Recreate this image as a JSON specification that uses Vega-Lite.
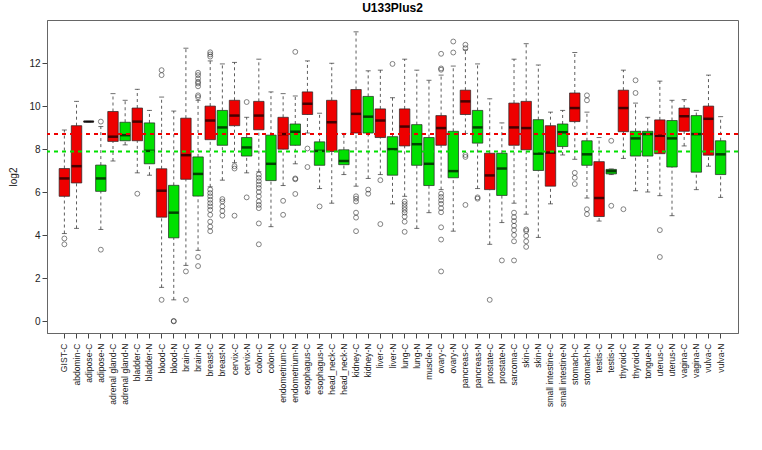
{
  "$schema": "https://vega.github.io/schema/vega-lite/v6.json",
  "width": 691,
  "height": 313,
  "autosize": {"type": "none"},
  "padding": {"left": 47, "top": 20, "right": 24, "bottom": 117},
  "background": "white",
  "title": {"text": "U133Plus2", "fontSize": 12, "fontWeight": "bold", "font": "Liberation Sans", "color": "#000", "offset": 5},
  "config": {"view": {"stroke": "#666", "strokeWidth": 1}, "axis": {"labelFont": "Liberation Sans", "titleFont": "Liberation Sans"}},
  "datasets": {
    "boxes": [
      {"cat": "GIST-C", "type": "C", "lo": 4.08, "q1": 5.81, "med": 6.64, "q3": 7.10, "hi": 8.89},
      {"cat": "abdomin-C", "type": "C", "lo": 4.32, "q1": 6.43, "med": 7.21, "q3": 9.09, "hi": 10.22},
      {"cat": "adipose-C", "type": "C", "lo": 9.27, "q1": 9.27, "med": 9.28, "q3": 9.29, "hi": 9.29},
      {"cat": "adipose-N", "type": "N", "lo": 4.27, "q1": 6.04, "med": 6.64, "q3": 7.26, "hi": 9.05},
      {"cat": "adrenal gland-C", "type": "C", "lo": 7.45, "q1": 8.36, "med": 8.58, "q3": 9.75, "hi": 10.58},
      {"cat": "adrenal gland-N", "type": "N", "lo": 8.20, "q1": 8.39, "med": 8.65, "q3": 9.25, "hi": 10.27},
      {"cat": "bladder-C", "type": "C", "lo": 6.90, "q1": 8.39, "med": 9.28, "q3": 9.91, "hi": 10.78},
      {"cat": "bladder-N", "type": "N", "lo": 6.79, "q1": 7.32, "med": 7.92, "q3": 9.22, "hi": 9.80},
      {"cat": "blood-C", "type": "C", "lo": 1.58, "q1": 4.84, "med": 6.07, "q3": 7.09, "hi": 10.42},
      {"cat": "blood-N", "type": "N", "lo": 1.0, "q1": 3.88, "med": 5.05, "q3": 6.32, "hi": 9.77},
      {"cat": "brain-C", "type": "C", "lo": 2.60, "q1": 6.60, "med": 7.72, "q3": 9.44, "hi": 12.69},
      {"cat": "brain-N", "type": "N", "lo": 3.30, "q1": 5.82, "med": 6.85, "q3": 7.64, "hi": 10.27},
      {"cat": "breast-C", "type": "C", "lo": 6.25, "q1": 8.44, "med": 9.33, "q3": 10.0, "hi": 12.1},
      {"cat": "breast-N", "type": "N", "lo": 6.56, "q1": 8.18, "med": 9.01, "q3": 9.80, "hi": 11.96},
      {"cat": "cervix-C", "type": "C", "lo": 7.37, "q1": 9.09, "med": 9.56, "q3": 10.27, "hi": 12.03},
      {"cat": "cervix-N", "type": "N", "lo": 6.90, "q1": 7.68, "med": 8.08, "q3": 8.54, "hi": 9.48},
      {"cat": "colon-C", "type": "C", "lo": 6.95, "q1": 8.90, "med": 9.56, "q3": 10.22, "hi": 12.18},
      {"cat": "colon-N", "type": "N", "lo": 4.40, "q1": 6.54, "med": 7.32, "q3": 8.65, "hi": 10.66},
      {"cat": "endometrium-C", "type": "C", "lo": 6.31, "q1": 8.00, "med": 8.70, "q3": 9.48, "hi": 10.58},
      {"cat": "endometrium-N", "type": "N", "lo": 7.32, "q1": 8.18, "med": 8.81, "q3": 9.17, "hi": 10.47},
      {"cat": "esophagus-C", "type": "C", "lo": 8.75, "q1": 9.61, "med": 10.11, "q3": 10.66, "hi": 12.10},
      {"cat": "esophagus-N", "type": "N", "lo": 6.17, "q1": 7.25, "med": 7.92, "q3": 8.34, "hi": 9.67},
      {"cat": "head_neck-C", "type": "C", "lo": 5.49, "q1": 7.89, "med": 9.25, "q3": 10.27, "hi": 11.99},
      {"cat": "head_neck-N", "type": "N", "lo": 6.82, "q1": 7.28, "med": 7.45, "q3": 7.97, "hi": 8.73},
      {"cat": "kidney-C", "type": "C", "lo": 6.28, "q1": 8.75, "med": 9.64, "q3": 10.77, "hi": 13.45},
      {"cat": "kidney-N", "type": "N", "lo": 6.64, "q1": 8.75, "med": 9.51, "q3": 10.45, "hi": 11.64},
      {"cat": "liver-C", "type": "C", "lo": 6.82, "q1": 8.54, "med": 9.33, "q3": 9.87, "hi": 11.67},
      {"cat": "liver-N", "type": "N", "lo": 5.46, "q1": 6.79, "med": 8.00, "q3": 8.58, "hi": 10.39},
      {"cat": "lung-C", "type": "C", "lo": 5.81, "q1": 8.15, "med": 9.05, "q3": 9.87, "hi": 12.18},
      {"cat": "lung-N", "type": "N", "lo": 4.32, "q1": 7.25, "med": 8.23, "q3": 9.14, "hi": 11.67},
      {"cat": "muscle-N", "type": "N", "lo": 5.05, "q1": 6.31, "med": 7.32, "q3": 8.54, "hi": 11.2},
      {"cat": "ovary-C", "type": "C", "lo": 6.12, "q1": 8.18, "med": 8.98, "q3": 9.56, "hi": 11.44},
      {"cat": "ovary-N", "type": "N", "lo": 4.19, "q1": 6.67, "med": 6.98, "q3": 8.83, "hi": 11.86},
      {"cat": "pancreas-C", "type": "C", "lo": 8.73, "q1": 9.61, "med": 10.22, "q3": 10.74, "hi": 12.61},
      {"cat": "pancreas-N", "type": "N", "lo": 6.17, "q1": 8.28, "med": 9.01, "q3": 9.80, "hi": 11.96},
      {"cat": "prostate-C", "type": "C", "lo": 3.58, "q1": 6.12, "med": 6.78, "q3": 7.81, "hi": 10.34},
      {"cat": "prostate-N", "type": "N", "lo": 4.59, "q1": 5.85, "med": 7.10, "q3": 7.81, "hi": 9.22},
      {"cat": "sarcoma-C", "type": "C", "lo": 5.49, "q1": 8.18, "med": 9.01, "q3": 10.14, "hi": 12.18},
      {"cat": "skin-C", "type": "C", "lo": 4.98, "q1": 7.97, "med": 8.98, "q3": 10.22, "hi": 12.9},
      {"cat": "skin-N", "type": "N", "lo": 3.90, "q1": 7.01, "med": 7.79, "q3": 9.37, "hi": 11.91},
      {"cat": "small intestine-C", "type": "C", "lo": 5.46, "q1": 6.28, "med": 7.84, "q3": 9.09, "hi": 9.72},
      {"cat": "small intestine-N", "type": "N", "lo": 7.73, "q1": 8.12, "med": 8.78, "q3": 9.17, "hi": 9.80},
      {"cat": "stomach-C", "type": "C", "lo": 7.53, "q1": 9.28, "med": 9.91, "q3": 10.61, "hi": 12.49},
      {"cat": "stomach-N", "type": "N", "lo": 5.73, "q1": 7.25, "med": 7.76, "q3": 8.39, "hi": 9.72},
      {"cat": "testis-C", "type": "C", "lo": 4.66, "q1": 4.87, "med": 5.73, "q3": 7.42, "hi": 8.54},
      {"cat": "testis-N", "type": "N", "lo": 6.82, "q1": 6.85, "med": 6.98, "q3": 7.06, "hi": 7.08},
      {"cat": "thyroid-C", "type": "C", "lo": 7.57, "q1": 8.81, "med": 9.91, "q3": 10.74, "hi": 11.67},
      {"cat": "thyroid-N", "type": "N", "lo": 6.07, "q1": 7.68, "med": 8.50, "q3": 8.83, "hi": 10.14},
      {"cat": "tongue-N", "type": "N", "lo": 6.01, "q1": 7.68, "med": 8.70, "q3": 8.83, "hi": 9.48},
      {"cat": "uterus-C", "type": "C", "lo": 5.84, "q1": 7.79, "med": 8.62, "q3": 9.36, "hi": 11.16},
      {"cat": "uterus-N", "type": "N", "lo": 4.91, "q1": 7.17, "med": 8.50, "q3": 9.33, "hi": 10.27},
      {"cat": "vagina-C", "type": "C", "lo": 8.15, "q1": 8.83, "med": 9.53, "q3": 9.91, "hi": 10.30},
      {"cat": "vagina-N", "type": "N", "lo": 6.12, "q1": 6.93, "med": 8.70, "q3": 9.56, "hi": 9.80},
      {"cat": "vulva-C", "type": "C", "lo": 7.21, "q1": 7.72, "med": 9.41, "q3": 10.0, "hi": 11.44},
      {"cat": "vulva-N", "type": "N", "lo": 5.76, "q1": 6.82, "med": 7.76, "q3": 8.39, "hi": 9.51}
    ],
    "outliers": [
      {"cat": "GIST-C", "v": 3.85}, {"cat": "GIST-C", "v": 3.58},
      {"cat": "adipose-N", "v": 9.28}, {"cat": "adipose-N", "v": 3.33},
      {"cat": "bladder-C", "v": 5.93},
      {"cat": "blood-C", "v": 11.67}, {"cat": "blood-C", "v": 11.44}, {"cat": "blood-C", "v": 1.0},
      {"cat": "blood-N", "v": 0.0}, {"cat": "blood-N", "v": 0.02},
      {"cat": "brain-C", "v": 2.32}, {"cat": "brain-C", "v": 1.0},
      {"cat": "brain-N", "v": 11.55}, {"cat": "brain-N", "v": 11.44}, {"cat": "brain-N", "v": 11.28}, {"cat": "brain-N", "v": 11.13}, {"cat": "brain-N", "v": 11.05}, {"cat": "brain-N", "v": 10.92}, {"cat": "brain-N", "v": 10.50}, {"cat": "brain-N", "v": 10.42}, {"cat": "brain-N", "v": 2.99}, {"cat": "brain-N", "v": 2.57},
      {"cat": "breast-C", "v": 12.3}, {"cat": "breast-C", "v": 12.4}, {"cat": "breast-C", "v": 12.5},
      {"cat": "breast-C", "v": 6.12}, {"cat": "breast-C", "v": 5.96}, {"cat": "breast-C", "v": 5.81}, {"cat": "breast-C", "v": 5.65}, {"cat": "breast-C", "v": 5.49}, {"cat": "breast-C", "v": 5.34}, {"cat": "breast-C", "v": 5.18}, {"cat": "breast-C", "v": 4.95}, {"cat": "breast-C", "v": 4.63}, {"cat": "breast-C", "v": 4.40}, {"cat": "breast-C", "v": 4.19},
      {"cat": "breast-N", "v": 5.68}, {"cat": "breast-N", "v": 5.57}, {"cat": "breast-N", "v": 5.34}, {"cat": "breast-N", "v": 5.13}, {"cat": "breast-N", "v": 4.91},
      {"cat": "cervix-C", "v": 7.21}, {"cat": "cervix-C", "v": 7.10}, {"cat": "cervix-C", "v": 4.91},
      {"cat": "cervix-N", "v": 10.19}, {"cat": "cervix-N", "v": 5.76},
      {"cat": "colon-C", "v": 6.82}, {"cat": "colon-C", "v": 6.67}, {"cat": "colon-C", "v": 6.51}, {"cat": "colon-C", "v": 6.35}, {"cat": "colon-C", "v": 6.20}, {"cat": "colon-C", "v": 6.01}, {"cat": "colon-C", "v": 5.81}, {"cat": "colon-C", "v": 5.57}, {"cat": "colon-C", "v": 5.41}, {"cat": "colon-C", "v": 5.26}, {"cat": "colon-C", "v": 4.55}, {"cat": "colon-C", "v": 3.58},
      {"cat": "endometrium-C", "v": 5.60}, {"cat": "endometrium-C", "v": 4.95},
      {"cat": "endometrium-N", "v": 12.52}, {"cat": "endometrium-N", "v": 6.64}, {"cat": "endometrium-N", "v": 6.60}, {"cat": "endometrium-N", "v": 5.92},
      {"cat": "esophagus-C", "v": 8.03}, {"cat": "esophagus-C", "v": 7.17},
      {"cat": "esophagus-N", "v": 5.34},
      {"cat": "kidney-C", "v": 5.81}, {"cat": "kidney-C", "v": 5.70}, {"cat": "kidney-C", "v": 5.57}, {"cat": "kidney-C", "v": 5.05}, {"cat": "kidney-C", "v": 4.82}, {"cat": "kidney-C", "v": 4.19},
      {"cat": "kidney-N", "v": 6.12}, {"cat": "kidney-N", "v": 5.93},
      {"cat": "liver-C", "v": 6.56}, {"cat": "liver-C", "v": 4.52},
      {"cat": "liver-N", "v": 11.96},
      {"cat": "lung-C", "v": 5.57}, {"cat": "lung-C", "v": 5.45}, {"cat": "lung-C", "v": 5.31}, {"cat": "lung-C", "v": 5.18}, {"cat": "lung-C", "v": 5.05}, {"cat": "lung-C", "v": 4.87}, {"cat": "lung-C", "v": 4.63}, {"cat": "lung-C", "v": 4.16},
      {"cat": "ovary-C", "v": 12.43}, {"cat": "ovary-C", "v": 11.75}, {"cat": "ovary-C", "v": 11.69}, {"cat": "ovary-C", "v": 5.93}, {"cat": "ovary-C", "v": 5.78}, {"cat": "ovary-C", "v": 5.62}, {"cat": "ovary-C", "v": 5.46}, {"cat": "ovary-C", "v": 5.26}, {"cat": "ovary-C", "v": 5.07}, {"cat": "ovary-C", "v": 4.37}, {"cat": "ovary-C", "v": 3.80}, {"cat": "ovary-C", "v": 2.32},
      {"cat": "ovary-N", "v": 13.0}, {"cat": "ovary-N", "v": 12.49},
      {"cat": "pancreas-C", "v": 12.85}, {"cat": "pancreas-C", "v": 12.69}, {"cat": "pancreas-C", "v": 7.73}, {"cat": "pancreas-C", "v": 7.64}, {"cat": "pancreas-C", "v": 5.41},
      {"cat": "pancreas-N", "v": 5.76}, {"cat": "pancreas-N", "v": 5.70},
      {"cat": "prostate-C", "v": 1.0},
      {"cat": "prostate-N", "v": 2.83},
      {"cat": "sarcoma-C", "v": 5.05}, {"cat": "sarcoma-C", "v": 4.84}, {"cat": "sarcoma-C", "v": 4.66}, {"cat": "sarcoma-C", "v": 4.44}, {"cat": "sarcoma-C", "v": 4.24}, {"cat": "sarcoma-C", "v": 4.01}, {"cat": "sarcoma-C", "v": 3.72}, {"cat": "sarcoma-C", "v": 2.83},
      {"cat": "skin-C", "v": 4.27}, {"cat": "skin-C", "v": 4.20}, {"cat": "skin-C", "v": 3.97}, {"cat": "skin-C", "v": 3.72}, {"cat": "skin-C", "v": 3.46},
      {"cat": "stomach-C", "v": 6.90}, {"cat": "stomach-C", "v": 6.67}, {"cat": "stomach-C", "v": 6.38},
      {"cat": "stomach-N", "v": 10.50}, {"cat": "stomach-N", "v": 10.27}, {"cat": "stomach-N", "v": 5.21}, {"cat": "stomach-N", "v": 4.98},
      {"cat": "testis-N", "v": 8.39}, {"cat": "testis-N", "v": 5.37},
      {"cat": "thyroid-C", "v": 5.21},
      {"cat": "thyroid-N", "v": 11.2}, {"cat": "thyroid-N", "v": 10.61},
      {"cat": "uterus-C", "v": 4.24}, {"cat": "uterus-C", "v": 2.99}
    ],
    "refs": [
      {"type": "C", "v": 8.70},
      {"type": "N", "v": 7.89}
    ]
  },
  "encoding": {
    "x": {
      "field": "cat", "type": "nominal", "sort": null,
      "scale": {"paddingInner": 0.14, "paddingOuter": 2.26},
      "axis": {"title": null, "labelAngle": -90, "labelFontSize": 8.6, "labelColor": "#222", "tickColor": "#444", "tickSize": 5, "labelPadding": 5, "domainColor": "#666", "labelOverlap": false}
    }
  },
  "layer": [
    {
      "data": {"name": "boxes"},
      "mark": {"type": "rule", "color": "#333", "strokeWidth": 0.8, "strokeDash": [3, 3]},
      "encoding": {
        "y": {"field": "lo", "type": "quantitative", "scale": {"domain": [-0.54, 14.0], "nice": false, "zero": false},
          "axis": {"title": "log2", "titleFontSize": 10, "titleFontWeight": "normal", "titleColor": "#222", "titlePadding": 10, "values": [0, 2, 4, 6, 8, 10, 12], "labelFontSize": 10, "labelColor": "#222", "tickColor": "#444", "tickSize": 5, "grid": false, "domainColor": "#666"}},
        "y2": {"field": "q1"}
      }
    },
    {
      "data": {"name": "boxes"},
      "mark": {"type": "rule", "color": "#333", "strokeWidth": 0.8, "strokeDash": [3, 3]},
      "encoding": {"y": {"field": "q3", "type": "quantitative"}, "y2": {"field": "hi"}}
    },
    {
      "data": {"name": "boxes"},
      "mark": {"type": "tick", "color": "#333", "size": 5, "thickness": 1},
      "encoding": {"y": {"field": "lo", "type": "quantitative"}}
    },
    {
      "data": {"name": "boxes"},
      "mark": {"type": "tick", "color": "#333", "size": 5, "thickness": 1},
      "encoding": {"y": {"field": "hi", "type": "quantitative"}}
    },
    {
      "data": {"name": "boxes"},
      "mark": {"type": "bar", "stroke": "#222", "strokeWidth": 0.7},
      "encoding": {
        "y": {"field": "q1", "type": "quantitative"}, "y2": {"field": "q3"},
        "color": {"field": "type", "type": "nominal", "scale": {"domain": ["C", "N"], "range": ["#EE0000", "#00E000"]}, "legend": null}
      }
    },
    {
      "data": {"name": "boxes"},
      "mark": {"type": "tick", "color": "#000", "size": 10, "thickness": 2.5},
      "encoding": {"y": {"field": "med", "type": "quantitative"}}
    },
    {
      "data": {"name": "outliers"},
      "mark": {"type": "point", "shape": "circle", "filled": false, "color": "#222", "size": 24, "strokeWidth": 0.8},
      "encoding": {"y": {"field": "v", "type": "quantitative"}}
    },
    {
      "data": {"name": "refs"},
      "mark": {"type": "rule", "strokeWidth": 2, "strokeDash": [4, 4]},
      "encoding": {
        "x": null,
        "y": {"field": "v", "type": "quantitative"},
        "color": {"field": "type", "type": "nominal", "scale": {"domain": ["C", "N"], "range": ["#EE0000", "#00E000"]}, "legend": null}
      }
    }
  ]
}
